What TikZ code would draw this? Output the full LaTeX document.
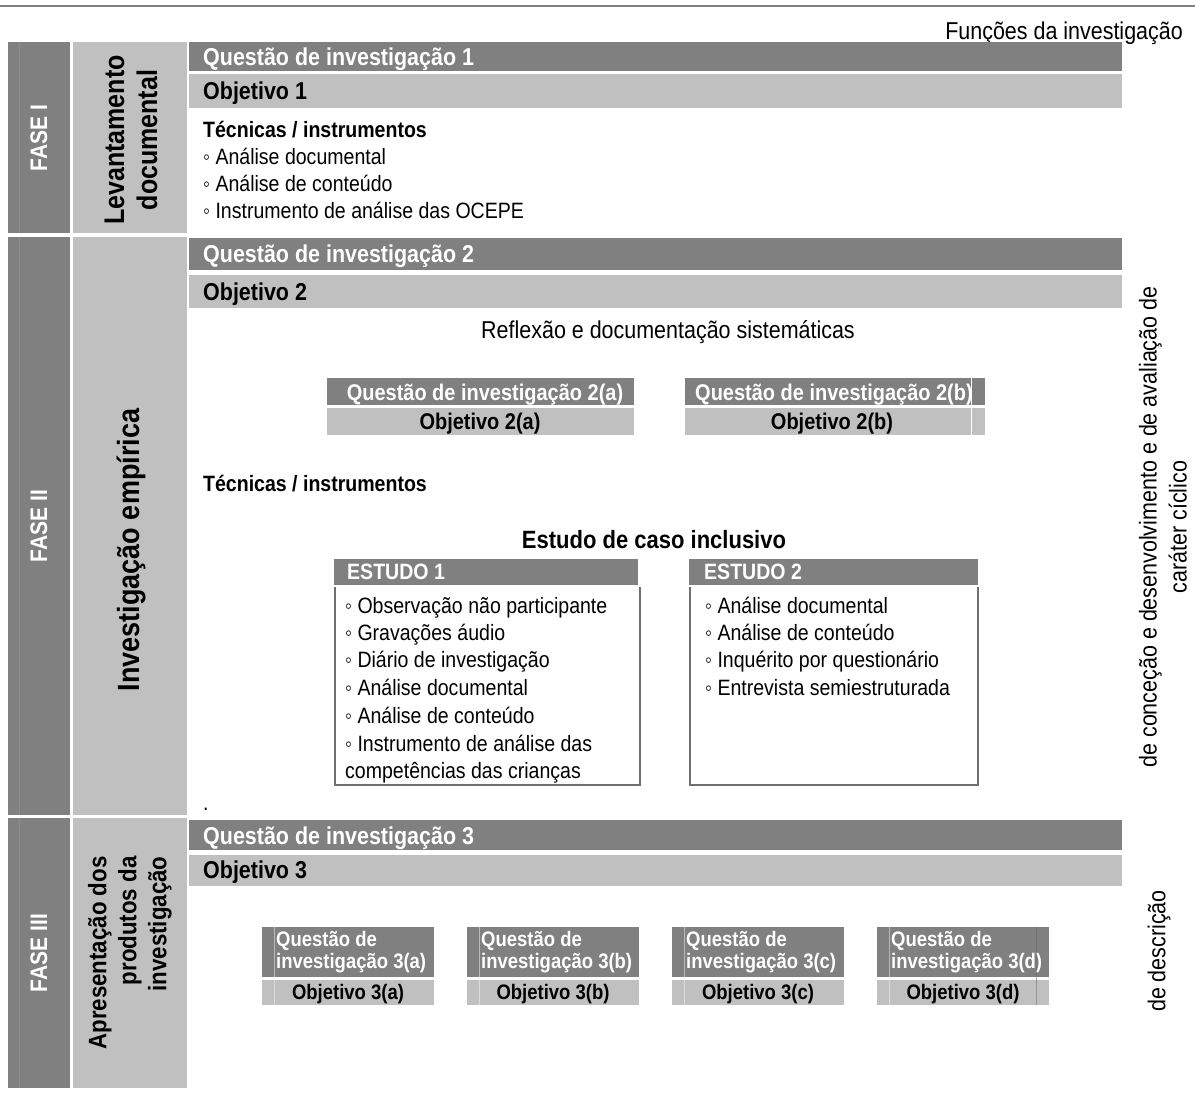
\documentclass[tikz,border=0pt]{standalone}
\usepackage{fontspec}
\setmainfont{Liberation Sans}[FakeStretch=0.88]
\definecolor{dk}{HTML}{808080}
\definecolor{lt}{HTML}{C0C0C0}
\definecolor{edge}{HTML}{707070}
\definecolor{seam}{HTML}{8C8C8C}
\tikzset{
  lbl/.style={inner sep=0pt, text depth=0pt},
  hbold/.style={lbl, anchor=west, font=\fontsize{24.4}{29}\selectfont\bfseries, text height=17.5pt},
  hreg/.style={lbl, font=\fontsize{24.4}{29}\selectfont, text height=17.5pt},
  bbold/.style={lbl, anchor=west, font=\fontsize{22.2}{26}\selectfont\bfseries, text height=15.9pt},
  breg/.style={lbl, anchor=west, font=\fontsize{22.2}{26}\selectfont, text height=15.9pt},
  sbold/.style={lbl, font=\fontsize{22.7}{27}\selectfont\bfseries, text height=16.3pt},
  tbold/.style={inner sep=0pt, anchor=west, align=left, text=white,
    font=\fontsize{21}{22}\selectfont\bfseries},
  obold/.style={lbl, font=\fontsize{21}{25}\selectfont\bfseries, text height=15pt},
  fase/.style={inner sep=0pt, rotate=90, text=white,
    font=\fontsize{23.9}{28}\selectfont\bfseries},
  stage/.style={inner sep=0pt, rotate=90, align=center},
  side/.style={inner sep=0pt, rotate=90, align=center,
    font=\fontsize{24.4}{30}\selectfont},
}
\begin{document}
\begin{tikzpicture}[x=1pt,y=-1pt]
\useasboundingbox (0,0) rectangle (1195,1093);
\fill[white] (0,0) rectangle (1195,1093);

% top rule and column heading
\draw[dk, line width=2pt] (0,6) -- (1195,6);
\node[hreg, anchor=east] (func) at (1183,31) {Funções da investigação};

% phase rows: dark phase column, light stage column
\foreach \t/\b in {42/233, 237/815, 818/1088}{
  \fill[dk] (8,\t) rectangle (70,\b);
  \draw[seam, line width=0.8pt] (19,\t) -- (19,\b);
  \fill[lt] (73,\t) rectangle (187,\b);
}
\node[fase] (f1) at (39,138) {FASE I};
\node[fase] (f2) at (39,526) {FASE II};
\node[fase] (f3) at (39,953) {FASE III};
\node[stage, font=\fontsize{28.4}{33}\selectfont\bfseries] (s1) at (131,140) {Levantamento\\documental};
\node[stage, font=\fontsize{30.7}{34}\selectfont\bfseries] (s2) at (131,550) {Investigação empírica};
\node[stage, align=right, font=\fontsize{25.3}{30}\selectfont\bfseries] (s3) at (130,953) {Apresentação dos\\produtos da\\investigação};

% ---------- phase I ----------
\fill[dk] (189,42) rectangle (1122,71);
\fill[lt] (189,74) rectangle (1122,108);
\node[hbold, text=white] (q1) at (203,57) {Questão de investigação 1};
\node[hbold] (o1) at (203,91) {Objetivo 1};
\node[bbold] (tec1) at (203,130) {Técnicas / instrumentos};
\node[breg] (i1a) at (203,157) {◦ Análise documental};
\node[breg] (i1b) at (203,184) {◦ Análise de conteúdo};
\node[breg] (i1c) at (203,211) {◦ Instrumento de análise das OCEPE};

% ---------- phase II ----------
\fill[dk] (189,238) rectangle (1122,270);
\fill[lt] (189,275) rectangle (1122,308);
\node[hbold, text=white] (q2) at (203,254) {Questão de investigação 2};
\node[hbold] (o2) at (203,292) {Objetivo 2};
\node[hreg] (refl) at (668,330) {Reflexão e documentação sistemáticas};

\fill[dk] (327,378) rectangle (634,405);
\fill[lt] (327,408) rectangle (634,435);
\node[sbold, text=white] (q2a) at (485,392) {Questão de investigação 2(a)};
\node[sbold] (o2a) at (480,421) {Objetivo 2(a)};

\fill[dk] (685,378) rectangle (985,405);
\fill[lt] (685,408) rectangle (985,435);
\draw[white, line width=0.8pt] (971,378) -- (971,435);
\node[sbold, text=white] (q2b) at (834,392) {Questão de investigação 2(b)};
\node[sbold] (o2b) at (832,421) {Objetivo 2(b)};

\node[bbold] (tec2) at (203,484) {Técnicas / instrumentos};
\node[lbl, font=\fontsize{25}{29}\selectfont\bfseries, text height=17.9pt] (caso) at (654,540) {Estudo de caso inclusivo};

% study 1
\fill[dk] (334,559) rectangle (638,585);
\draw[edge, line width=1.5pt] (335,587) -- (335,785) -- (640,785) -- (640,587);
\node[bbold, text=white] (e1) at (347,572) {ESTUDO 1};
\node[breg] (e1a) at (345,606) {◦ Observação não participante};
\node[breg] (e1b) at (345,633) {◦ Gravações áudio};
\node[breg] (e1c) at (345,660) {◦ Diário de investigação};
\node[breg] (e1d) at (345,688) {◦ Análise documental};
\node[breg] (e1e) at (345,716) {◦ Análise de conteúdo};
\node[breg] (e1f) at (345,744) {◦ Instrumento de análise das};
\node[breg] (e1g) at (345,771) {competências das crianças};

% study 2
\fill[dk] (689,559) rectangle (978,585);
\draw[edge, line width=1.5pt] (690,587) -- (690,785) -- (978,785) -- (978,587);
\node[bbold, text=white] (e2) at (704,572) {ESTUDO 2};
\node[breg] (e2a) at (705,606) {◦ Análise documental};
\node[breg] (e2b) at (705,633) {◦ Análise de conteúdo};
\node[breg] (e2c) at (705,660) {◦ Inquérito por questionário};
\node[breg] (e2d) at (705,688) {◦ Entrevista semiestruturada};

\node[breg] (dot) at (203,803) {.};

% ---------- phase III ----------
\fill[dk] (189,820) rectangle (1122,850);
\fill[lt] (189,855) rectangle (1122,886);
\node[hbold, text=white] (q3) at (203,836) {Questão de investigação 3};
\node[hbold] (o3) at (203,870) {Objetivo 3};

\foreach \x/\s in {262/a, 467/b, 672/c, 877/d}{
  \fill[dk] (\x,927) rectangle ({\x+172},977);
  \fill[lt] (\x,980) rectangle ({\x+172},1005);
  \draw[white, opacity=0.45, line width=0.8pt] ({\x+12},927) -- ({\x+12},1005);
  \node[tbold] (q3\s) at ({\x+14},952) {Questão de\\investigação 3(\s)};
  \node[obold] (o3\s) at ({\x+86},992) {Objetivo 3(\s)};
}
\draw[black!60, opacity=0.5, line width=0.8pt] (1036,927) -- (1036,1005);

% research functions
\node[side] (fn1) at (1163,527) {de conceção e desenvolvimento e de avaliação de\\caráter cíclico};
\node[side] (fn2) at (1159,951) {de descrição};
\end{tikzpicture}
\end{document}
